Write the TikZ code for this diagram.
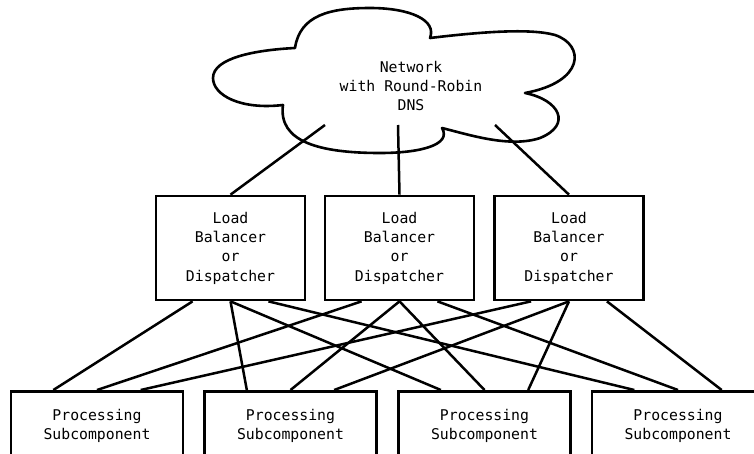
\documentclass[tikz,border=0pt]{standalone}
\usepackage{fontspec}
\newfontfamily\dmono{DejaVu Sans Mono}
\usetikzlibrary{calc}
\begin{document}
\begin{tikzpicture}[x=1pt,y=-1pt,
  txt/.style={align=center, font=\dmono\fontsize{14.8}{19.3}\selectfont, inner sep=0pt},
  box/.style={txt, draw, line width=2.7pt},
  lb/.style={box, minimum width=149pt, minimum height=104pt},
  ps/.style={box, minimum width=172pt, minimum height=69pt, anchor=north},
  wire/.style={line width=2.5pt}]
\clip (0,0) rectangle (754,453);
\fill[white] (0,0) rectangle (754,453);
% cloud
\draw[line width=2.6pt, line join=round]
  (283,105) .. controls (240,110) and (213,95) .. (213,78)
  .. controls (213,58) and (255,50) .. (295,48)
  .. controls (300,15) and (330,8) .. (370,8)
  .. controls (410,8) and (437,20) .. (430,38)
  .. controls (480,32) and (530,28) .. (555,35)
  .. controls (585,45) and (585,82) .. (525,93)
  .. controls (560,100) and (572,125) .. (540,138)
  .. controls (510,148) and (470,135) .. (442,128)
  .. controls (452,145) and (420,153) .. (380,153)
  .. controls (320,153) and (278,142) .. cycle;
\node[txt] (net) at (411,86) {Network\\with Round-Robin\\DNS};
\coordinate (n1) at (325,125);
\coordinate (n2) at (398,125);
\coordinate (n3) at (495,125);
% load balancers
\node[lb] (lb1) at (230.5,248) {Load\\Balancer\\or\\Dispatcher};
\node[lb] (lb2) at (399.5,248) {Load\\Balancer\\or\\Dispatcher};
\node[lb] (lb3) at (569,248) {Load\\Balancer\\or\\Dispatcher};
\draw[wire] (n1) -- (lb1.north);
\draw[wire] (n2) -- (lb2.north);
\draw[wire] (n3) -- (lb3.north);
% processing
\node[ps] (pa) at (97,390) {Processing\\Subcomponent};
\node[ps] (pb) at (290.5,390) {Processing\\Subcomponent};
\node[ps] (pc) at (484.5,390) {Processing\\Subcomponent};
\node[ps] (pd) at (678,390) {Processing\\Subcomponent};
% anchor points
\foreach \n in {lb1,lb2,lb3}{
  \coordinate (\n L) at ($(\n.south west)!.25!(\n.south east)$);
  \coordinate (\n C) at (\n.south);
  \coordinate (\n R) at ($(\n.south west)!.75!(\n.south east)$);
}
\foreach \n in {pa,pb,pc,pd}{
  \coordinate (\n L) at ($(\n.north west)!.25!(\n.north east)$);
  \coordinate (\n C) at (\n.north);
  \coordinate (\n R) at ($(\n.north west)!.75!(\n.north east)$);
}
\draw[wire] (lb1L) -- (paL);
\draw[wire] (lb2L) -- (paC);
\draw[wire] (lb3L) -- (paR);
\draw[wire] (lb1C) -- (pbL);
\draw[wire] (lb2C) -- (pbC);
\draw[wire] (lb3C) -- (pbR);
\draw[wire] (lb1C) -- (pcL);
\draw[wire] (lb2C) -- (pcC);
\draw[wire] (lb3C) -- (pcR);
\draw[wire] (lb1R) -- (pdL);
\draw[wire] (lb2R) -- (pdC);
\draw[wire] (lb3R) -- (pdR);
\end{tikzpicture}
\end{document}
